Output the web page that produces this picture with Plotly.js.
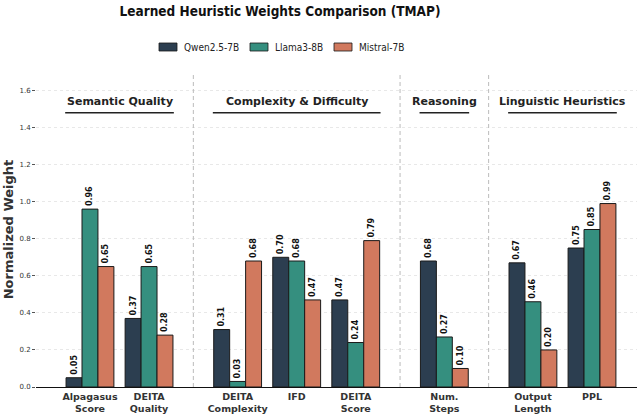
<!DOCTYPE html>
<html>
<head>
<meta charset="utf-8">
<script src="https://cdn.plot.ly/plotly-3.0.1.min.js"></script>
<style>html,body{margin:0;padding:0;background:#fff;}#chart{width:638px;height:414px;}</style>
</head>
<body>
<div id="chart"></div>
<script>
// ---- data ----
const groupNames = ["Semantic Quality", "Complexity & Difficulty", "Reasoning", "Linguistic Heuristics"];
const groupSizes = [2, 3, 1, 2];
const categories = ["Alpagasus<br>Score", "DEITA<br>Quality", "DEITA<br>Complexity", "IFD", "DEITA<br>Score", "Num.<br>Steps", "Output<br>Length", "PPL"];
const seriesNames = ["Qwen2.5-7B", "Llama3-8B", "Mistral-7B"];
const qwen    = [0.05, 0.37, 0.31, 0.70, 0.47, 0.68, 0.67, 0.75];
const llama   = [0.96, 0.65, 0.03, 0.68, 0.24, 0.27, 0.46, 0.85];
const mistral = [0.65, 0.28, 0.68, 0.47, 0.79, 0.10, 0.20, 0.99];
const yTicks = [0.0, 0.2, 0.4, 0.6, 0.8, 1.0, 1.2, 1.4, 1.6];

// ---- layout computation ----
const colors = ["#2c3e50", "#358f7f", "#d1795e"];
const COND = "DejaVu Sans Condensed, DejaVu Sans";
const groupGap = 1.5;
const pos = [];
const groupSpans = [];
let cur = 0;
groupSizes.forEach((n, gi) => {
  const start = cur;
  for (let i = 0; i < n; i++) { pos.push(cur); if (i < n - 1) cur += 1; }
  groupSpans.push([start, cur]);
  cur += groupGap;
});
const bw = 0.27;
const allSeries = [qwen, llama, mistral];
const traces = allSeries.map((vals, si) => ({
  type: "bar",
  name: seriesNames[si],
  x: pos,
  y: vals,
  width: bw,
  offset: -1.5 * bw + si * bw,
  marker: {color: colors[si], line: {color: "#1a1a1a", width: 1}},
  text: vals.map(v => v.toFixed(2)),
  textposition: "outside",
  textangle: -90,
  constraintext: "none",
  cliponaxis: false,
  textfont: {family: "DejaVu Sans", size: 8, color: "#111", weight: "bold"},
  hoverinfo: "skip",
  showlegend: false
}));

// plot area in px: left 36, right 637, top 72, bottom 387
const PL = 36, PW = 601, PB = 387, PH = 315;
const px2x = p => (p - PL) / PW;
const px2y = p => (PB - p) / PH;

const shapes = [];
const annotations = [];
for (let gi = 0; gi < groupSpans.length; gi++) {
  const [a, b] = groupSpans[gi];
  const c = (a + b) / 2;
  annotations.push({
    x: c, y: 1.54, xref: "x", yref: "y", text: "<b>" + groupNames[gi] + "</b>",
    showarrow: false, font: {family: "DejaVu Sans", size: 11, color: "#222"}
  });
  shapes.push({type: "line", xref: "x", yref: "y", x0: a - 0.42, x1: b + 0.42, y0: 1.48, y1: 1.48,
    line: {color: "#222", width: 1.3}});
  if (gi < groupSpans.length - 1) {
    const sep = b + groupGap / 2;
    shapes.push({type: "line", xref: "x", yref: "y", x0: sep, x1: sep, y0: 0, y1: 1.7,
      line: {color: "#bbbbbb", width: 1, dash: "4px,3px"}});
  }
}

// custom legend (wide swatches like the reference)
const legendSwatchX = [159, 250, 334];
seriesNames.forEach((nm, si) => {
  const x0 = legendSwatchX[si];
  shapes.push({type: "rect", xref: "paper", yref: "paper",
    x0: px2x(x0), x1: px2x(x0 + 18), y0: px2y(51), y1: px2y(43),
    fillcolor: colors[si], line: {color: "#1a1a1a", width: 0.8}});
  annotations.push({xref: "paper", yref: "paper", x: px2x(x0 + 23), y: px2y(47.5),
    xanchor: "left", yanchor: "middle", text: nm, showarrow: false,
    font: {family: COND, size: 10, color: "#222"}});
});

const layout = {
  width: 638, height: 414,
  margin: {l: 36, r: 1, t: 72, b: 27},
  paper_bgcolor: "#fff", plot_bgcolor: "#fff",
  font: {family: "DejaVu Sans", color: "#333"},
  barmode: "overlay",
  showlegend: false,
  title: {text: "<b>Learned Heuristic Weights Comparison (TMAP)</b>", x: 280/638, xanchor: "center",
    y: 1 - 11/414, yanchor: "middle", yref: "container", font: {family: COND, size: 13.5, color: "#111"}},
  xaxis: {range: [-0.914, 9.262], tickvals: pos, ticktext: categories.map(c => "<b>" + c + "</b>"),
    showline: true, linecolor: "#111", linewidth: 1.2, showgrid: false, zeroline: false, ticks: "",
    tickfont: {family: "DejaVu Sans", size: 9.5, color: "#333"}, fixedrange: true},
  yaxis: {range: [0, 1.7], tickvals: yTicks, ticktext: yTicks.map(v => v.toFixed(1)),
    showline: false, zeroline: false, showgrid: true, gridcolor: "#e2e2e2", griddash: "dot", gridwidth: 0.8,
    ticks: "outside", ticklen: 3, tickcolor: "#555", tickwidth: 1,
    tickfont: {family: "DejaVu Sans", size: 7, color: "#333"},
    title: {text: "<b>Normalized Weight</b>", font: {family: "DejaVu Sans", size: 13, color: "#333"}, standoff: 2}},
  shapes: shapes,
  annotations: annotations
};
Plotly.newPlot("chart", traces, layout, {displayModeBar: false, staticPlot: true});
</script>
</body>
</html>
